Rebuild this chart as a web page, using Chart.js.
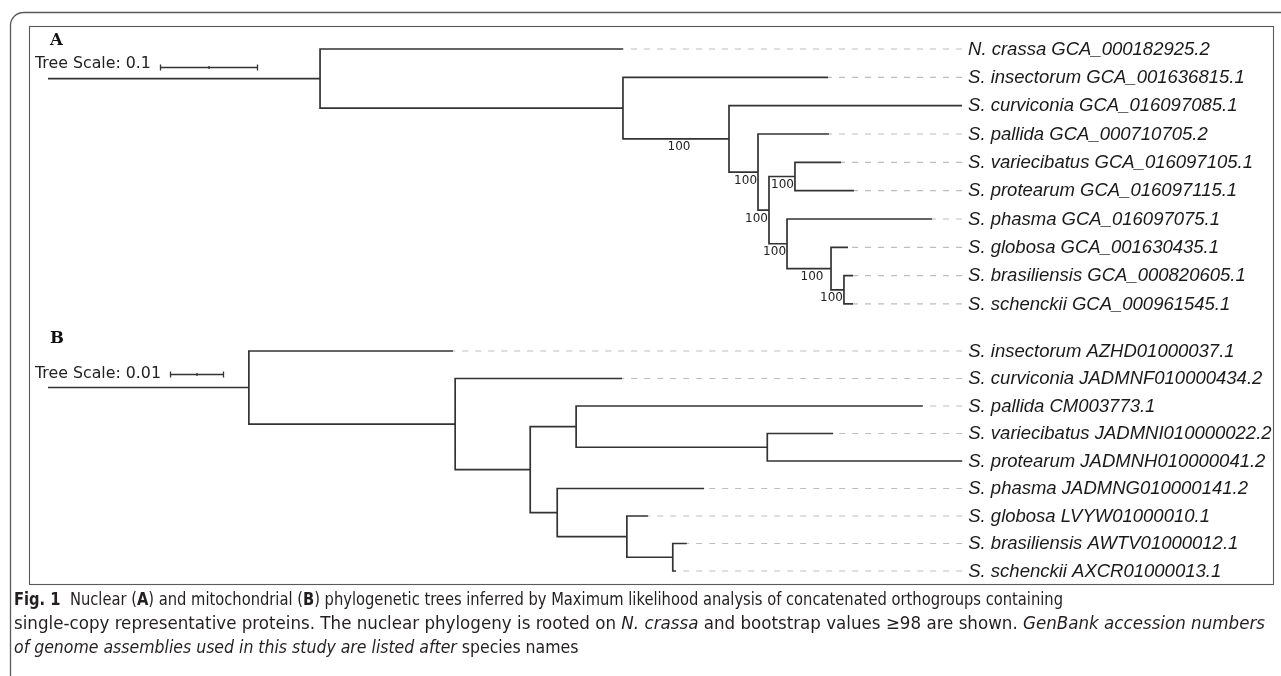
<!DOCTYPE html>
<html><head><meta charset="utf-8">
<script src="https://cdn.jsdelivr.net/npm/chart.js@4"></script>
<style>html,body{margin:0;padding:0;background:#fff;}canvas{display:block;}</style>
</head><body>
<canvas id="c" width="1281" height="676"></canvas>
<script>
// ===== DATA =====
// Panel A: nuclear tree (distances from root, substitutions/site)
const nucLeafNames = ['N. crassa','S. insectorum','S. curviconia','S. pallida','S. variecibatus','S. protearum','S. phasma','S. globosa','S. brasiliensis','S. schenckii'];
const nucAccessions = ['GCA_000182925.2','GCA_001636815.1','GCA_016097085.1','GCA_000710705.2','GCA_016097105.1','GCA_016097115.1','GCA_016097075.1','GCA_001630435.1','GCA_000820605.1','GCA_000961545.1'];
const nucLeafDepth = [0.5867,0.7959,0.9327,0.7969,0.8092,0.8224,0.9020,0.8163,0.8214,0.8214];
const nucNodeDepth = [0.2776,0.5867,0.6949,0.7245,0.7357,0.7622,0.7541,0.7990,0.8122];
const nucNodeChildren = [['L0','N1'],['L1','N2'],['L2','N3'],['L3','N4'],['N5','N6'],['L4','L5'],['L6','N7'],['L7','N8'],['L8','L9']];
const nucBootstrap = [null,null,100,100,100,100,100,100,100];
const nucScaleBar = 0.1;

// Panel B: mitochondrial tree
const mitoLeafNames = ['S. insectorum','S. curviconia','S. pallida','S. variecibatus','S. protearum','S. phasma','S. globosa','S. brasiliensis','S. schenckii'];
const mitoAccessions = ['AZHD01000037.1','JADMNF010000434.2','CM003773.1','JADMNI010000022.2','JADMNH010000041.2','JADMNG010000141.2','LVYW01000010.1','AWTV01000012.1','AXCR01000013.1'];
const mitoLeafDepth = [0.0750,0.1063,0.1620,0.1454,0.1693,0.1215,0.1111,0.1183,0.1163];
const mitoNodeDepth = [0.0372,0.0754,0.0893,0.0978,0.1332,0.0943,0.1072,0.1157];
const mitoNodeChildren = [['L0','N1'],['L1','N2'],['N3','N5'],['L2','N4'],['L3','L4'],['L5','N6'],['L6','N7'],['L7','L8']];
const mitoBootstrap = [null,null,null,null,null,null,null,null];
const mitoScaleBar = 0.01;

// ===== TREE LAYOUT HELPERS =====
function buildTree(leafDepth, nodeDepth, nodeChildren){
  const nodeY = [];
  const getY = r => {
    const k = +r.slice(1);
    if (r[0]==='L') return k;
    if (nodeY[k]===undefined){ const [a,b]=nodeChildren[k]; nodeY[k]=(getY(a)+getY(b))/2; }
    return nodeY[k];
  };
  const getX = r => r[0]==='L' ? leafDepth[+r.slice(1)] : nodeDepth[+r.slice(1)];
  const branches = [];
  const y0 = getY('N0');
  branches.push({x:0,y:y0},{x:nodeDepth[0],y:y0},{x:nodeDepth[0],y:null});
  nodeChildren.forEach(([a,b],k)=>{
    const nx = nodeDepth[k];
    branches.push({x:getX(a),y:getY(a)},{x:nx,y:getY(a)},{x:nx,y:getY(b)},{x:getX(b),y:getY(b)},{x:getX(b),y:null});
  });
  const column = Math.max(...leafDepth);
  const leaders = [];
  leafDepth.forEach((d,i)=>{ if (d < column-1e-9) leaders.push({x:column,y:i},{x:d,y:i},{x:d,y:null}); });
  return {branches, leaders, getX, getY, column};
}
const treeA = buildTree(nucLeafDepth, nucNodeDepth, nucNodeChildren);
const treeB = buildTree(mitoLeafDepth, mitoNodeDepth, mitoNodeChildren);

const LINE = '#333333', DASH = '#bdbdbd';
function lineDs(data, xID, yID, dashed){
  return {data, xAxisID:xID, yAxisID:yID, showLine:true, pointRadius:0, pointHoverRadius:0,
    borderColor: dashed?DASH:LINE, borderWidth: dashed?1.2:1.7, borderDash: dashed?[6,7]:[],
    borderCapStyle:'butt', borderJoinStyle:'miter', tension:0, spanGaps:false, fill:false,
    order: dashed?2:1, clip:false};
}

// ===== ANNOTATION PLUGIN (frame, labels, bootstrap, scale bars, caption) =====
const CAP = '#231f20';
const captionLines = [
  {end:1063, y:600, runs:[{t:'Fig. 1',b:1},{t:'  Nuclear ('},{t:'A',b:1},{t:') and mitochondrial ('},{t:'B',b:1},{t:') phylogenetic trees inferred by Maximum likelihood analysis of concatenated orthogroups containing'}]},
  {end:1265, y:624, runs:[{t:'single-copy representative proteins. The nuclear phylogeny is rooted on '},{t:'N. crassa',i:1},{t:' and bootstrap values \u226598 are shown. '},{t:'GenBank accession numbers',i:1}]},
  {end:null, y:648, gs:1.07, runs:[{t:'of genome assemblies used in this study are listed after',i:1},{t:' species names'}]}
];
function capFont(r){ return (r.i?'italic ':'')+(r.b?'bold ':'')+'17.5px "Liberation Sans Narrow","DejaVu Sans Condensed","Liberation Sans",sans-serif'; }

const annot = {
  id:'annot',
  afterDraw(chart){
    const ctx = chart.ctx, s = chart.scales;
    ctx.save();
    // frame
    ctx.strokeStyle = '#5a5a5a'; ctx.lineWidth = 1.3;
    ctx.beginPath(); ctx.moveTo(1281,12.5); ctx.lineTo(23,12.5); ctx.arcTo(10.5,12.5,10.5,25,13); ctx.lineTo(10.5,676); ctx.stroke();
    ctx.lineWidth = 1.1;
    ctx.strokeRect(29.5,26.5,1244,558);

    function panel(tree, names, acc, boot, nodeDepth, nodeChildren, xs, ys, letter, letterY, scaleVal, scaleTxt, barX, barY, txtBase){
      const xp = v => xs.getPixelForValue(v), yp = v => ys.getPixelForValue(v);
      ctx.fillStyle = '#111'; ctx.textAlign='left'; ctx.textBaseline='alphabetic';
      ctx.font = 'bold 16.5px "DejaVu Serif",serif';
      ctx.fillText(letter, 50, letterY);
      ctx.font = '15.8px "DejaVu Sans",sans-serif'; ctx.fillStyle='#222';
      ctx.fillText(scaleTxt, 35, txtBase);
      const len = xp(scaleVal)-xp(0);
      ctx.strokeStyle = '#333'; ctx.lineWidth = 1.3;
      ctx.beginPath();
      ctx.moveTo(barX, barY); ctx.lineTo(barX+len, barY);
      ctx.moveTo(barX+0.5, barY-3); ctx.lineTo(barX+0.5, barY+3);
      ctx.moveTo(barX+len-0.5, barY-3); ctx.lineTo(barX+len-0.5, barY+3);
      ctx.moveTo(barX+len/2, barY-1.5); ctx.lineTo(barX+len/2, barY+1.5);
      ctx.stroke();
      ctx.font = 'italic 18.5px "Liberation Sans",Arial,sans-serif'; ctx.fillStyle='#1a1a1a';
      ctx.textBaseline='middle';
      const lx = xp(tree.column)+6;
      names.forEach((n,i)=> ctx.fillText(n+' '+acc[i], lx, yp(i)+0.5));
      ctx.font = '12px "DejaVu Sans",sans-serif'; ctx.fillStyle='#222'; ctx.textAlign='center';
      const parentOf = {};
      nodeChildren.forEach((ch,k)=> ch.forEach(c=>{ parentOf[c]=k; }));
      boot.forEach((b,k)=>{
        if (b==null) return;
        const p = parentOf['N'+k];
        const x0 = xp(nodeDepth[p]), x1 = xp(nodeDepth[k]);
        const w = ctx.measureText(String(b)).width;
        const cx = Math.min((x0+x1)/2 + 3, x1-w/2-1);
        ctx.fillText(String(b), cx, yp(tree.getY('N'+k))+8.5);
      });
    }
    panel(treeA, nucLeafNames, nucAccessions, nucBootstrap, nucNodeDepth, nucNodeChildren, s.xA, s.yA, 'A', 45, nucScaleBar, 'Tree Scale: 0.1', 160, 67.5, 68);
    panel(treeB, mitoLeafNames, mitoAccessions, mitoBootstrap, mitoNodeDepth, mitoNodeChildren, s.xB, s.yB, 'B', 343, mitoScaleBar, 'Tree Scale: 0.01', 170, 374.5, 378);

    // caption: lines with a known right edge are fitted; the last line uses line 1's scale
    ctx.fillStyle = CAP; ctx.textAlign='left'; ctx.textBaseline='middle';
    const measure = L => { let W=0; L.runs.forEach(r=>{ ctx.font=capFont(r); W+=ctx.measureText(r.t).width; }); return W; };
    const base = (captionLines[0].end-14)/measure(captionLines[0]);
    captionLines.forEach(L=>{
      const sx = L.end ? (L.end-14)/measure(L) : base*(L.gs||1);
      ctx.save(); ctx.translate(14, L.y); ctx.scale(sx,1);
      let x = 0;
      L.runs.forEach(r=>{ ctx.font = capFont(r); ctx.fillText(r.t, x, 0); x += ctx.measureText(r.t).width; });
      ctx.restore();
    });
    ctx.restore();
  }
};

// ===== CHART =====
new Chart(document.getElementById('c'), {
  type:'scatter',
  data:{ datasets:[
    lineDs(treeA.leaders,'xA','yA',true),
    lineDs(treeA.branches,'xA','yA',false),
    lineDs(treeB.leaders,'xB','yB',true),
    lineDs(treeB.branches,'xB','yB',false)
  ]},
  options:{
    responsive:false, animation:false, devicePixelRatio:1,
    layout:{padding:0},
    plugins:{legend:{display:false}, tooltip:{enabled:false}},
    events:[],
    scales:{
      xA:{type:'linear', axis:'x', display:false, min:-48/980, max:(1281-48)/980},
      xB:{type:'linear', axis:'x', display:false, min:-48/5400, max:(1281-48)/5400},
      yA:{type:'linear', axis:'y', display:false, reverse:true, min:-49/28.33, max:(676-49)/28.33},
      yB:{type:'linear', axis:'y', display:false, reverse:true, min:-351/27.5, max:(676-351)/27.5}
    }
  },
  plugins:[annot]
});
</script>
</body></html>
